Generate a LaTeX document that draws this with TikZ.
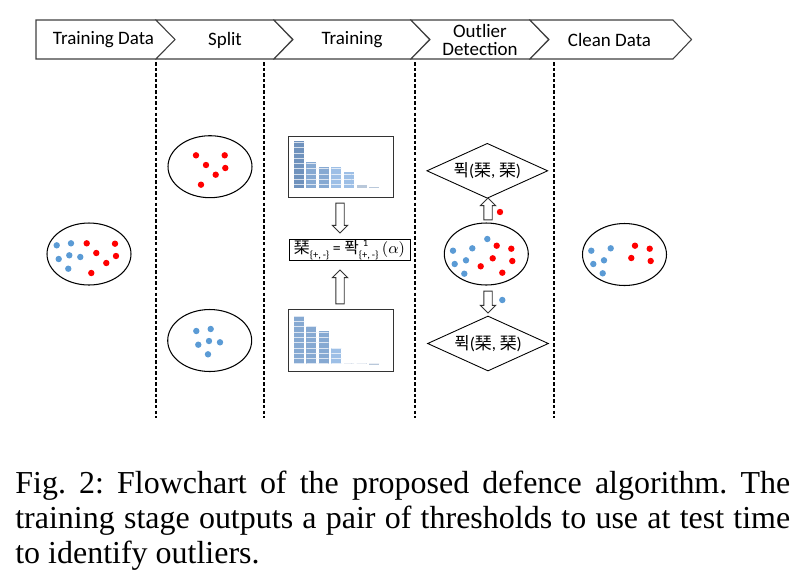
\documentclass[tikz,border=0pt]{standalone}
\usepackage{fontspec}
\setmainfont{Carlito}
\newfontfamily\cjk{Noto Sans CJK KR}
\newfontfamily\capfont{Liberation Serif}
\usetikzlibrary{positioning,shapes.geometric,shapes.arrows,patterns,calc}
\definecolor{dotblue}{HTML}{5B9BD5}
\definecolor{dotred}{HTML}{FF0000}
\definecolor{barA}{HTML}{6F92BD}
\definecolor{barB}{HTML}{86A9D2}
\definecolor{barC}{HTML}{9DBFE6}
\definecolor{barD}{HTML}{B9C8DA}
\frenchspacing
\newcommand{\subpm}{\raisebox{-0.55ex}{\fontsize{6}{6}\selectfont\{+,\,-\}}}
\tikzset{
  chev/.style={draw=black!75, line width=0.6pt, fill=white},
  sepline/.style={dash pattern=on 2pt off 1.2pt, line width=0.6pt},
  cloud/.style={ellipse, draw, line width=0.6pt, minimum width=1.68cm, minimum height=1.24cm, inner sep=0},
  bdot/.style={fill=dotblue},
  rdot/.style={fill=dotred},
  histbox/.style={draw=black!80, line width=0.6pt, minimum width=2.1cm, minimum height=1.225cm, inner sep=0},
  decision/.style={diamond, aspect=2.2, draw, line width=0.5pt, minimum width=2.42cm, minimum height=1.1cm,
    inner sep=0, font=\fontsize{9.6}{10}\selectfont},
  hollow/.style={single arrow, draw=black!80, line width=0.5pt, fill=white, inner xsep=0, inner ysep=0.075cm,
    single arrow head extend=0.07cm, single arrow tip angle=90}
}

\begin{document}
\begin{tikzpicture}[x=0.02cm, y=-0.02cm, font=\fontsize{10.8}{10.5}\selectfont]
    \useasboundingbox (0,0) rectangle (802,586);
    % Header chevrons
    \draw[chev] (36,20) -- (156,20) -- (176,39.5) -- (156,59) -- (36,59) -- cycle;
    \foreach \l/\r in {156/274, 274/411, 411/530, 530/673}
        \draw[chev] (\l,20) -- (\r,20) -- (\r+18.5,39.5) -- (\r,59) -- (\l,59) -- (\l+19,39.5) -- cycle;
    \node (hdata) at (103.5,40) {Training Data};
    \node (hsplit) at (225,40) {Split};
    \node (htrain) at (352,40) {Training};
    \node[align=center] (houtl) at (480,40) {Outlier\\Detection};
    \node (hclean) at (609.5,40) {Clean Data};
    % Column separators
    \foreach \x in {156,264,415,554}
        \draw[sepline] (\x,62) -- (\x,418);
    % Data sets
    \node[cloud] (tdata) at (89,254) {};
    \node[cloud] (splitR) at (210,166.7) {};
    \node[cloud] (splitB) at (209.7,340.5) {};
    \node[cloud] (outl) at (486.3,254) {};
    \node[cloud] (clean) at (624.5,254.5) {};
    \foreach \x/\y in {56.7/245.3, 71/243.3, 58.7/259, 69.3/255.3, 80.3/257, 68.3/268.7,
        196.3/331, 210.7/329, 209/341, 198.3/344.7, 220/342.3, 208/354.3,
        453/250.7, 472.3/248.3, 487.3/239, 454.7/264, 466/260.3, 464.3/273.7, 502.3/300,
        591.3/250.7, 610.7/248.3, 593.3/264, 604/260.3, 602.7/273.3}
        \fill[bdot] (\x,\y) circle (0.064cm);
    \foreach \x/\y in {86.7/243.3, 115/243.7, 96.3/253, 116/256, 106.3/263, 91.3/273,
        196/155.3, 224.7/155.3, 206/165, 225.3/168, 215.7/174.7, 201/184.7,
        496.7/245.7, 511.3/248.7, 492.7/258.3, 512.3/261, 480.7/266.3, 502.3/272.7, 500/212,
        635/245.7, 649.7/248.7, 631.3/258, 650.7/261}
        \fill[rdot] (\x,\y) circle (0.064cm);
    % Histograms
    \node[histbox] (histR) at (340.8,166.7) {};
    \node[histbox] (histB) at (340.8,340.5) {};
    \foreach \l/\t/\c in {294/140.7/barA, 306.3/161.7/barB, 318.7/166.7/barB, 331.3/167.3/barC,
        344/172/barC, 356.7/185/barD, 369/186.7/barD} {
        \fill[\c] (\l,188.3) rectangle (\l+10,\t);
        \fill[pattern=horizontal lines, pattern color=white!70!\c] (\l,188.3) rectangle (\l+10,\t);
    }
    \foreach \l/\t/\c in {294/316.7/barB, 306.3/326.7/barB, 318.7/331.3/barB, 331.3/348/barC,
        344/362.7/barD, 356.7/363.3/barD, 369/363.7/barD} {
        \fill[\c] (\l,364.3) rectangle (\l+10,\t);
        \fill[pattern=horizontal lines, pattern color=white!70!\c] (\l,364.3) rectangle (\l+10,\t);
    }
    % Thresholds
    \node[draw, line width=0.5pt, minimum width=2.42cm, minimum height=0.414cm, inner sep=0,
        font=\fontsize{9}{10}\selectfont] (thr) at (349.5,249.6)
        {{\cjk 琹}\subpm\ = {\cjk 퐉}\rlap{\raisebox{1ex}{\hspace{0.25em}\fontsize{6}{6}\selectfont 1}}\subpm\ $(\alpha)$};
    \node[decision] (testR) at (487.3,170.8) {{\cjk 퓍}({\cjk 琹}, {\cjk 琹})};
    \node[decision] (testB) at (488,343.5) {{\cjk 퓍}({\cjk 琹}, {\cjk 琹})};
    % Block arrows
    \node[hollow, rotate=-90, minimum height=0.6cm] (aR) at (340,216) {};
    \node[hollow, rotate=90, minimum height=0.68cm] (aB) at (340,289) {};
    \node[hollow, rotate=90, minimum height=0.44cm] (aUp) at (488,211) {};
    \node[hollow, rotate=-90, minimum height=0.44cm] (aDown) at (488,300) {};
    % Caption
    \node[anchor=north west, inner sep=0, text width=15.5cm, align=justify,
        font=\capfont\fontsize{18.2}{19.9}\selectfont] (cap) at (15,471)
        {Fig.~2: Flowchart of the proposed defence algorithm. The\linebreak
         training stage outputs a pair of thresholds to use at test time\linebreak
         to identify outliers.};
\end{tikzpicture}
\end{document}
